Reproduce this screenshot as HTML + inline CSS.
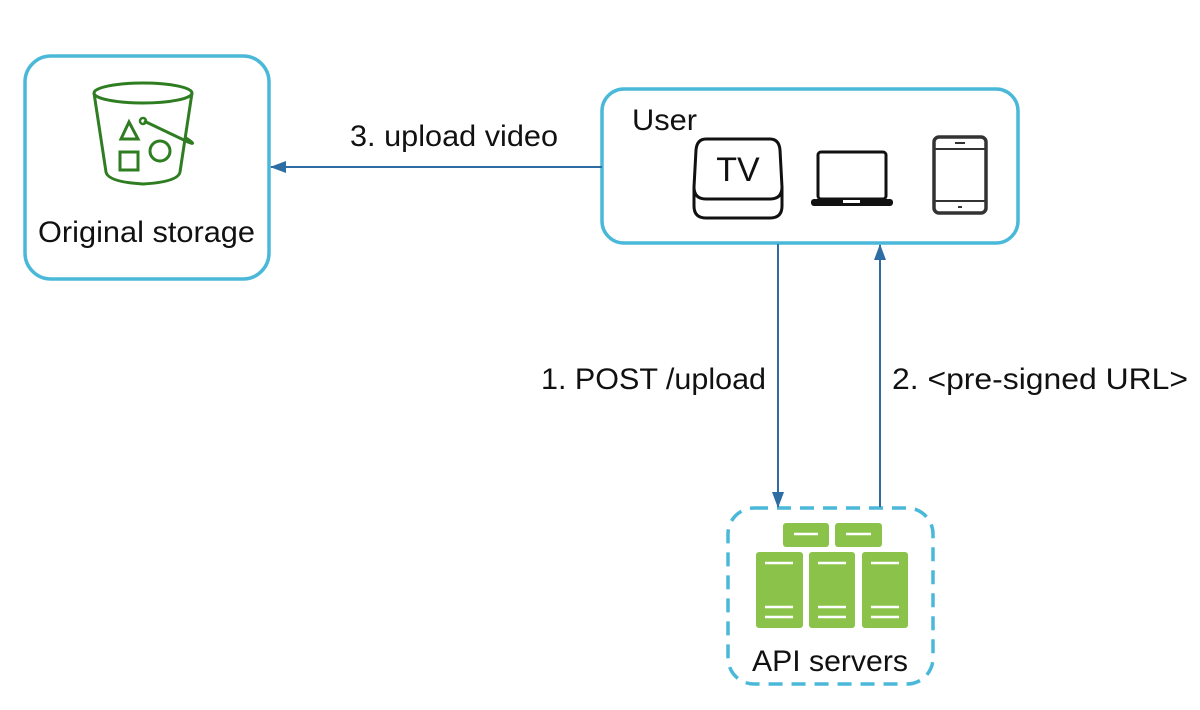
<!DOCTYPE html>
<html><head><meta charset="utf-8"><style>
body{margin:0;background:#fff;}
svg{display:block;font-family:"Liberation Sans",sans-serif;}
</style></head><body>
<svg width="1200" height="710" viewBox="0 0 1200 710">
<defs>
<marker id="ah" markerWidth="16" markerHeight="12" refX="15" refY="6" orient="auto" markerUnits="userSpaceOnUse" viewBox="0 0 16 12">
<path d="M0,0 L16,6 L0,12 z" fill="#2e6da4"/>
</marker>
</defs>
<rect x="25" y="56" width="244" height="223" rx="26" fill="none" stroke="#4ab8d8" stroke-width="3.5"/>
<rect x="602" y="89" width="416" height="154" rx="22" fill="none" stroke="#4ab8d8" stroke-width="3.5"/>
<rect x="728" y="508" width="205" height="176" rx="26" fill="none" stroke="#4ab8d8" stroke-width="3.5" stroke-dasharray="14,9"/>
<line x1="602" y1="167" x2="271" y2="167" stroke="#2e6da4" stroke-width="2" marker-end="url(#ah)"/>
<line x1="778" y1="244" x2="778" y2="507" stroke="#2e6da4" stroke-width="2" marker-end="url(#ah)"/>
<line x1="880" y1="507" x2="880" y2="245" stroke="#2e6da4" stroke-width="2" marker-end="url(#ah)"/>
<g font-size="30" fill="#111">
<text x="350" y="146" textLength="208" lengthAdjust="spacingAndGlyphs">3. upload video</text>
<text x="541" y="389" textLength="225" lengthAdjust="spacingAndGlyphs">1. POST /upload</text>
<text x="892" y="389" textLength="296" lengthAdjust="spacingAndGlyphs">2. &lt;pre-signed URL&gt;</text>
<text x="38" y="242" textLength="217" lengthAdjust="spacingAndGlyphs">Original storage</text>
<text x="632" y="130" textLength="65" lengthAdjust="spacingAndGlyphs">User</text>
<text x="752" y="671" textLength="156" lengthAdjust="spacingAndGlyphs">API servers</text>
</g>
<g fill="none" stroke="#2f7d21" stroke-width="3">
<ellipse cx="143" cy="93" rx="49" ry="10"/>
<path d="M94,93 L106,172 Q108,182 143,184 Q178,182 180,172 L192,93"/>
<path d="M121,139 L129,122 L138,139 z"/>
<rect x="120" y="152" width="18" height="18"/>
<circle cx="160" cy="151" r="10"/>
<path d="M144,121 L188,142 Q198,146 186,138"/>
</g>
<circle cx="143" cy="121" r="3" fill="none" stroke="#2f7d21" stroke-width="2.5"/>
<g fill="none" stroke="#111" stroke-width="3">
<path d="M706,139 L770,139 Q779,139 780,150 L782,187 Q782,199 770,199 L706,199 Q694,199 694,187 L696,150 Q697,139 706,139 z"/>
<path d="M694,187 L694,206 Q694,218 706,218 L770,218 Q782,218 782,206 L782,187"/>
</g>
<text x="738" y="181" font-size="34" text-anchor="middle" fill="#111">TV</text>
<rect x="818" y="152" width="68" height="47" rx="3" fill="none" stroke="#111" stroke-width="3"/>
<rect x="811" y="199" width="82" height="7" rx="3" fill="#111"/>
<rect x="843" y="200" width="17" height="3" fill="#fff"/>
<rect x="934" y="137" width="52" height="76" rx="5" fill="none" stroke="#333" stroke-width="3.5"/>
<line x1="935" y1="149" x2="985" y2="149" stroke="#333" stroke-width="2"/>
<line x1="935" y1="201" x2="985" y2="201" stroke="#333" stroke-width="2"/>
<line x1="955" y1="143" x2="965" y2="143" stroke="#333" stroke-width="2"/>
<line x1="958" y1="207" x2="962" y2="207" stroke="#333" stroke-width="2"/>
<g fill="#8bc34a">
<rect x="783" y="523" width="46" height="24" rx="3"/>
<rect x="835" y="523" width="47" height="24" rx="3"/>
<rect x="756" y="552" width="47" height="76" rx="3"/>
<rect x="809" y="552" width="46" height="76" rx="3"/>
<rect x="862" y="552" width="46" height="76" rx="3"/>
</g>
<g stroke="#fff" stroke-width="2.5">
<line x1="794" y1="534" x2="818" y2="534"/><line x1="846" y1="534" x2="871" y2="534"/>
<line x1="765" y1="563" x2="793" y2="563"/><line x1="818" y1="563" x2="846" y2="563"/><line x1="871" y1="563" x2="899" y2="563"/>
<line x1="765" y1="607" x2="793" y2="607"/><line x1="818" y1="607" x2="846" y2="607"/><line x1="871" y1="607" x2="899" y2="607"/>
<line x1="765" y1="617" x2="793" y2="617"/><line x1="818" y1="617" x2="846" y2="617"/><line x1="871" y1="617" x2="899" y2="617"/>
</g>
</svg>
</body></html>
